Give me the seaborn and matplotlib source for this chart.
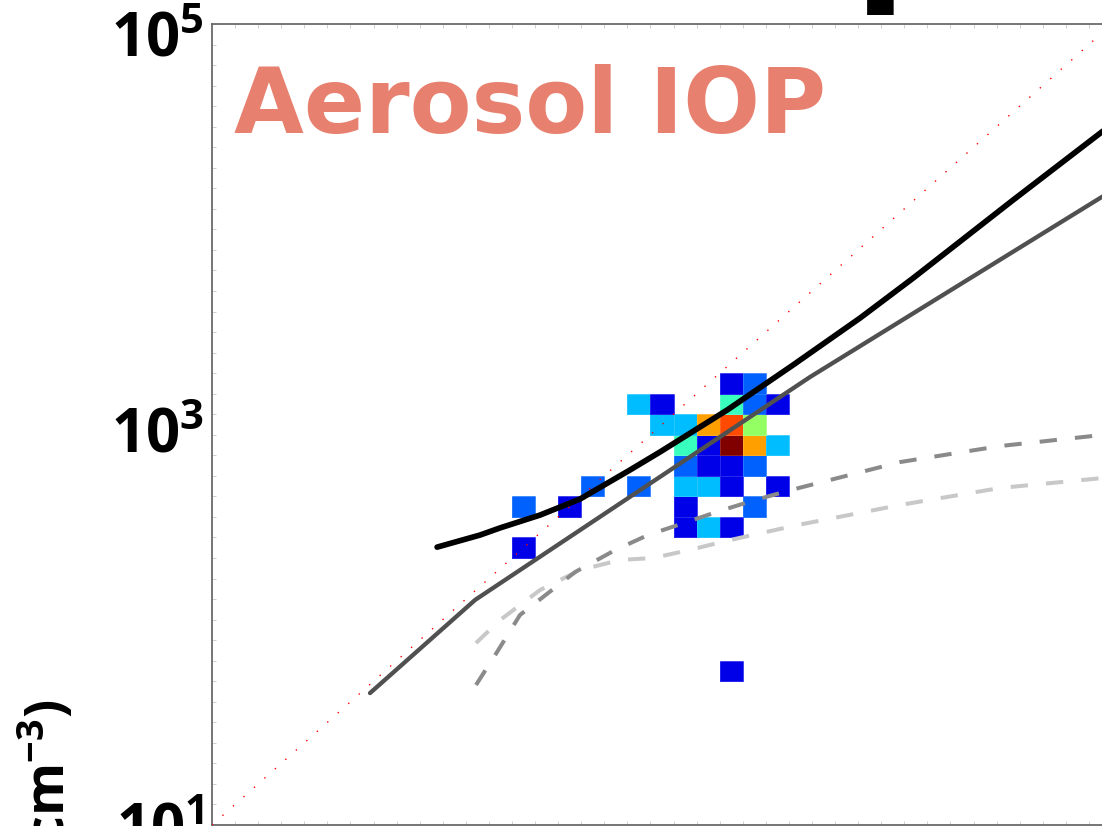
import numpy as np
import matplotlib
matplotlib.use("Agg")
import matplotlib.pyplot as plt
import seaborn as sns

# ---------------- data (log10 units) ----------------
log_min, log_max = 1.0, 5.05
n_bins = 39
bin_edges = list(np.linspace(log_min, log_max, n_bins + 1))

# 2-D histogram cells: bin column, bin row, normalised density
cell_col = [22, 23,
            18, 19, 22, 23, 24,
            19, 20, 21, 22, 23,
            20, 21, 22, 23, 24,
            20, 21, 22, 23,
            16, 18, 20, 21, 22, 24,
            13, 15, 20, 23,
            20, 21, 22,
            13,
            22]
cell_row = [21, 21,
            20, 20, 20, 20, 20,
            19, 19, 19, 19, 19,
            18, 18, 18, 18, 18,
            17, 17, 17, 17,
            16, 16, 16, 16, 16, 16,
            15, 15, 15, 15,
            14, 14, 14,
            13,
            7]
cell_val = [0.09, 0.22,
            0.31, 0.09, 0.42, 0.22, 0.09,
            0.31, 0.31, 0.74, 0.83, 0.53,
            0.42, 0.09, 1.00, 0.74, 0.31,
            0.22, 0.09, 0.09, 0.22,
            0.22, 0.22, 0.31, 0.31, 0.09, 0.09,
            0.22, 0.09, 0.09, 0.22,
            0.09, 0.31, 0.09,
            0.09,
            0.09]

# curves (log10 x, log10 y)
black_x = [2.013, 2.206, 2.296, 2.476, 2.656, 2.881, 3.016, 3.318, 3.615, 3.916, 4.155, 4.605, 5.005, 5.05]
black_y = [2.405, 2.466, 2.502, 2.567, 2.648, 2.795, 2.886, 3.098, 3.326, 3.563, 3.765, 4.160, 4.505, 4.543]

dgray_x = [1.711, 2.184, 3.691, 5.005, 5.05]
dgray_y = [1.667, 2.138, 3.265, 4.176, 4.204]

mgray_x = [2.188, 2.283, 2.386, 2.634, 2.814, 2.962, 3.124, 3.282, 3.444, 3.606, 4.096, 4.546, 5.005, 5.05]
mgray_y = [1.708, 1.875, 2.062, 2.279, 2.390, 2.466, 2.527, 2.587, 2.643, 2.694, 2.835, 2.916, 2.972, 2.975]

lgray_x = [2.188, 2.296, 2.476, 2.656, 2.836, 2.985, 3.147, 3.313, 3.471, 3.637, 4.096, 4.546, 5.005, 5.05]
lgray_y = [1.920, 2.036, 2.188, 2.289, 2.340, 2.350, 2.390, 2.436, 2.476, 2.517, 2.618, 2.704, 2.754, 2.758]

one_to_one = [log_min, log_max]

y_major = [1, 3, 5]
y_labels = [r"$10^{1}$", r"$10^{3}$", r"$10^{5}$"]

# ---------------- style ----------------
sns.set_theme(style="white")
plt.rcParams["font.family"] = ["Open Sans", "DejaVu Sans"]
plt.rcParams["mathtext.fontset"] = "custom"
plt.rcParams["mathtext.rm"] = "Open Sans:bold"
plt.rcParams["mathtext.it"] = "Open Sans:bold"
plt.rcParams["mathtext.bf"] = "Open Sans:bold"
plt.rcParams["mathtext.sf"] = "Open Sans:bold"

fig = plt.figure(figsize=(11.02, 8.26), dpi=100)
ax = fig.add_axes([212 / 1102, 1 / 826, 900 / 1102, 801 / 826])

# histogram cells
bw = bin_edges[1] - bin_edges[0]
cell_x = [bin_edges[c] + bw / 2 for c in cell_col]
cell_y = [bin_edges[r] + bw / 2 for r in cell_row]
sns.histplot(x=cell_x, y=cell_y, weights=cell_val, bins=bin_edges,
             cmap=matplotlib.colormaps["jet"], vmin=0, vmax=1, ax=ax, zorder=1,
             edgecolor=(1, 1, 1, 0.15), linewidth=0.5)

# 1:1 line
sns.lineplot(x=one_to_one, y=one_to_one, ax=ax, color="#ff0000", linewidth=1.0,
             linestyle=(0, (1, 9.1)), sort=False, estimator=None, zorder=3)

sns.lineplot(x=lgray_x, y=lgray_y, ax=ax, color="#c8c8c8", linewidth=2.9,
             linestyle=(0, (4.3, 4.5)), sort=False, estimator=None, zorder=4)
sns.lineplot(x=mgray_x, y=mgray_y, ax=ax, color="#8a8a8a", linewidth=2.9,
             linestyle=(0, (4.3, 4.5)), sort=False, estimator=None, zorder=4)
sns.lineplot(x=dgray_x, y=dgray_y, ax=ax, color="#505050", linewidth=3.1,
             sort=False, estimator=None, zorder=5)
sns.lineplot(x=black_x, y=black_y, ax=ax, color="#000000", linewidth=4.1,
             sort=False, estimator=None, zorder=6)

ax.set_xlim(log_min, log_max)
ax.set_ylim(log_min, log_max)
ax.set_xlabel("")
ax.set_ylabel("")

ax.set_yticks(y_major)
ax.set_yticklabels(y_labels)
ax.set_xticks(y_major)
ax.set_xticklabels(y_labels)
ax.set_xticks(bin_edges, minor=True)
ax.set_yticks(bin_edges, minor=True)
ax.tick_params(which="major", length=0, pad=6, labelsize=43, labelcolor="black")
ax.tick_params(which="minor", direction="in", length=3, width=0.6, color="#b5b5b5",
               left=True, top=True, bottom=True)
ax.grid(False)
for side in ["left", "top", "bottom", "right"]:
    ax.spines[side].set_color("#6a6a6a")
    ax.spines[side].set_linewidth(1.3)

ax.text(0.0244, 0.864, "Aerosol IOP", transform=ax.transAxes, fontsize=65,
        fontweight="bold", family=["DejaVu Sans"], color="#e8806f",
        ha="left", va="baseline", zorder=7)

# y-axis label (cut off by the figure edge)
fig.text(47.5 / 1102, 1 - 699 / 826, "(cm$^{-3}$)", rotation=90,
         rotation_mode="anchor", ha="right", va="center", fontsize=39,
         fontweight="bold", color="black")

# fragment of the title above the figure
fig.text(880 / 1102, 1 - 1 / 826, "\u25A0", fontsize=25, ha="center", va="center",
         family=["DejaVu Sans"], color="black")

fig.savefig("out.png", dpi=100)
